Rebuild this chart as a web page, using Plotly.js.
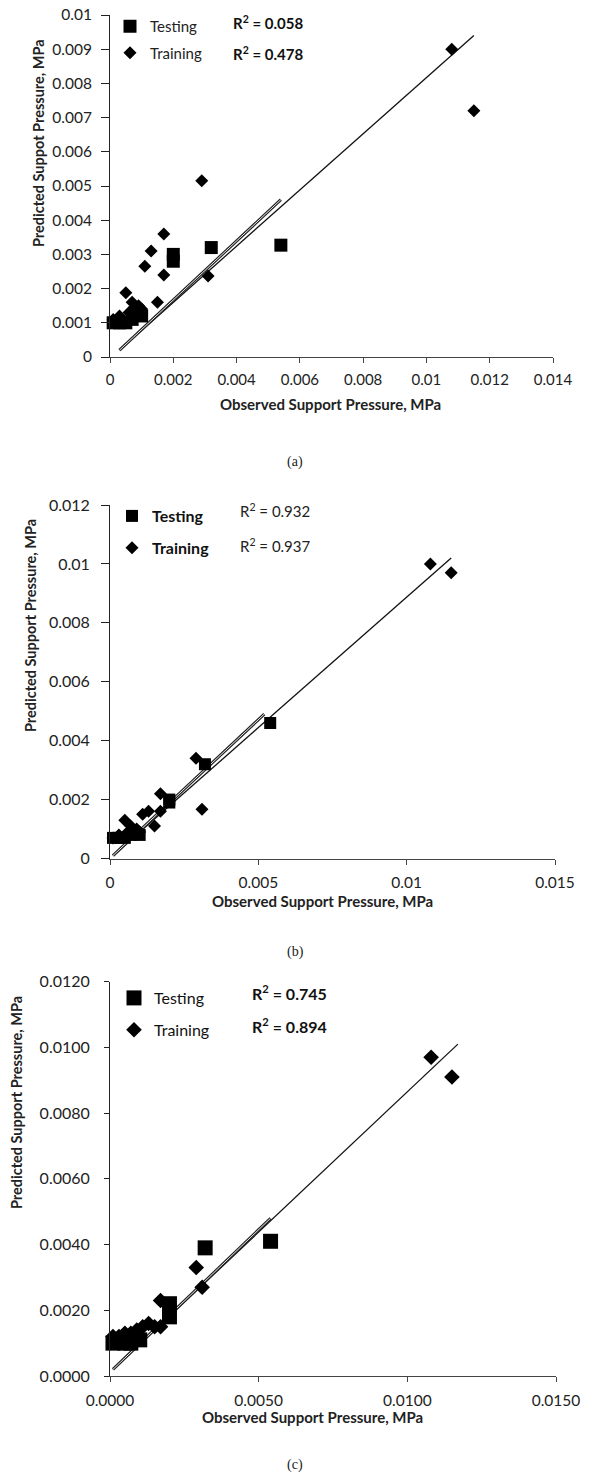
<!DOCTYPE html>
<html><head><meta charset="utf-8">
<script src="https://cdn.plot.ly/plotly-3.0.1.min.js"></script>
<style>html,body{margin:0;padding:0;background:#fff}#chart{width:595px;height:1481px}</style>
</head><body><div id="chart"></div>
<script>
// ---------- DATA ----------
// Observed support pressure (MPa) – same samples in all three panels
const trainObserved = [0.0108, 0.0115, 0.0029, 0.0031, 0.0017, 0.0017, 0.0013, 0.0011, 0.0015, 0.0005, 0.0007, 0.0009, 0.0003, 0.0001, 0.0006, 0.0010];
const testObserved  = [0.0054, 0.0032, 0.0020, 0.0020, 0.0010, 0.0007, 0.0005, 0.0003, 0.0001, 0.0008];

// Predicted support pressure (MPa)
const trainPredA = [0.0090, 0.0072, 0.00515, 0.00237, 0.0036, 0.0024, 0.0031, 0.00265, 0.0016, 0.00188, 0.0016, 0.0015, 0.0012, 0.0011, 0.0013, 0.0014];
const testPredA  = [0.00327, 0.0032, 0.0030, 0.0028, 0.0012, 0.0011, 0.0010, 0.0010, 0.0010, 0.0013];
const trainPredB = [0.0100, 0.0097, 0.0034, 0.00167, 0.0022, 0.0016, 0.0016, 0.0015, 0.0011, 0.0013, 0.0011, 0.0010, 0.0008, 0.0007, 0.0009, 0.0009];
const testPredB  = [0.0046, 0.0032, 0.0020, 0.0019, 0.0008, 0.0008, 0.0007, 0.0007, 0.0007, 0.0009];
const trainPredC = [0.0097, 0.0091, 0.0033, 0.0027, 0.0023, 0.0015, 0.0016, 0.0015, 0.0015, 0.0013, 0.0013, 0.0014, 0.0012, 0.0012, 0.0011, 0.0012];
const testPredC  = [0.0041, 0.0039, 0.0022, 0.0018, 0.0011, 0.0010, 0.0010, 0.0011, 0.0010, 0.0012];

// Trend lines (end points)
const trainLineA = {x: [0.0003, 0.0115], y: [0.0002, 0.0094]};
const testLineA  = {x: [0.0003, 0.0054], y: [0.0002, 0.0046]};
const trainLineB = {x: [0.0001, 0.0115], y: [0.0001, 0.0102]};
const testLineB  = {x: [0.0001, 0.0052], y: [0.0001, 0.0049]};
const trainLineC = {x: [0.0001, 0.0117], y: [0.0002, 0.0101]};
const testLineC  = {x: [0.0001, 0.0054], y: [0.0002, 0.0048]};

const r2A = {test: '0.058', train: '0.478'};
const r2B = {test: '0.932', train: '0.937'};
const r2C = {test: '0.745', train: '0.894'};

// Tick labels
const xTicksA = [0, 0.002, 0.004, 0.006, 0.008, 0.01, 0.012, 0.014];
const xTextA  = ['0', '0.002', '0.004', '0.006', '0.008', '0.01', '0.012', '0.014'];
const yTicksA = [0, 0.001, 0.002, 0.003, 0.004, 0.005, 0.006, 0.007, 0.008, 0.009, 0.01];
const yTextA  = ['0', '0.001', '0.002', '0.003', '0.004', '0.005', '0.006', '0.007', '0.008', '0.009', '0.01'];
const xTicksB = [0, 0.005, 0.01, 0.015];
const xTextB  = ['0', '0.005', '0.01', '0.015'];
const yTicksB = [0, 0.002, 0.004, 0.006, 0.008, 0.01, 0.012];
const yTextB  = ['0', '0.002', '0.004', '0.006', '0.008', '0.01', '0.012'];
const xTicksC = [0, 0.005, 0.01, 0.015];
const xTextC  = ['0.0000', '0.0050', '0.0100', '0.0150'];
const yTicksC = [0, 0.002, 0.004, 0.006, 0.008, 0.01, 0.012];
const yTextC  = ['0.0000', '0.0020', '0.0040', '0.0060', '0.0080', '0.0100', '0.0120'];

const xTitle = 'Observed Support Pressure, MPa';
const yTitleA = 'Predicted Suppot Pressure, MPa';
const yTitleB = 'Predicted Support Pressure, MPa';
const yTitleC = 'Predicted Support Pressure, MPa';

// ---------- LAYOUT HELPERS ----------
const W = 595, H = 1481;
const px = x => x / W;
const py = y => 1 - y / H;
const FONT = 'Lato, "Open Sans", sans-serif';

const traces = [];
function panel(ax, leg, trainPred, testPred, trainLine, testLine, sq, di) {
  const xa = 'x' + (ax === 1 ? '' : ax), ya = 'y' + (ax === 1 ? '' : ax);
  traces.push({x: trainLine.x, y: trainLine.y, mode: 'lines', line: {color: '#111', width: 1.3}, xaxis: xa, yaxis: ya, showlegend: false, hoverinfo: 'skip'});
  traces.push({x: testLine.x, y: testLine.y, mode: 'lines', line: {color: '#222', width: 3}, xaxis: xa, yaxis: ya, showlegend: false, hoverinfo: 'skip'});
  traces.push({x: testLine.x, y: testLine.y, mode: 'lines', line: {color: '#fff', width: 0.9}, xaxis: xa, yaxis: ya, showlegend: false, hoverinfo: 'skip'});
  traces.push({x: testObserved, y: testPred, mode: 'markers', name: 'Testing', legend: leg, legendgroup: leg + 't',
    marker: {symbol: 'square', size: sq, color: '#000'}, cliponaxis: false, xaxis: xa, yaxis: ya});
  traces.push({x: trainObserved, y: trainPred, mode: 'markers', name: 'Training', legend: leg, legendgroup: leg + 'r',
    marker: {symbol: 'diamond', size: di, color: '#000'}, cliponaxis: false, xaxis: xa, yaxis: ya});
}
panel(1, 'legend', trainPredA, testPredA, trainLineA, testLineA, 13, 10);
panel(2, 'legend2', trainPredB, testPredB, trainLineB, testLineB, 12, 10);
panel(3, 'legend3', trainPredC, testPredC, trainLineC, testLineC, 15, 12);

function axis(dom, range, tv, tt, anchor, fs, lc, tl, so) {
  return {domain: dom, range: range, tickvals: tv, ticktext: tt, ticks: 'outside', ticklen: tl, tickcolor: lc,
    showline: true, linecolor: lc, linewidth: 1, showgrid: false, zeroline: false, anchor: anchor, ticklabelstandoff: so,
    tickfont: {family: FONT, size: fs, color: '#222'}, fixedrange: true};
}

const layout = {
  width: W, height: H, margin: {l: 0, r: 0, t: 0, b: 0}, paper_bgcolor: '#fff', plot_bgcolor: '#fff',
  showlegend: true,
  xaxis:  axis([px(110), px(553)], [0, 0.014], xTicksA, xTextA, 'y', 15, '#444', 5, 4),
  yaxis:  axis([py(357), py(15)], [0, 0.01], yTicksA, yTextA, 'x', 15.5, '#222', 8, 6),
  xaxis2: axis([px(110), px(555)], [0, 0.015], xTicksB, xTextB, 'y2', 15.5, '#444', 5, 5),
  yaxis2: axis([py(858.5), py(505)], [0, 0.012], yTicksB, yTextB, 'x2', 16, '#222', 8, 8),
  xaxis3: axis([px(110), px(556)], [0, 0.015], xTicksC, xTextC, 'y3', 15.5, '#444', 5, 5),
  yaxis3: axis([py(1376), py(981.7)], [0, 0.012], yTicksC, yTextC, 'x3', 16, '#222', 5, 11),
  legend:  {x: px(110), y: py(10), xanchor: 'left', yanchor: 'top', bgcolor: 'rgba(0,0,0,0)', traceorder: 'grouped', tracegroupgap: 4,
            font: {family: FONT, size: 15, color: '#222'}},
  legend2: {x: px(112), y: py(499), xanchor: 'left', yanchor: 'top', bgcolor: 'rgba(0,0,0,0)', traceorder: 'grouped', tracegroupgap: 8,
            font: {family: FONT, size: 16, color: '#111', weight: 'bold'}},
  legend3: {x: px(114), y: py(981), xanchor: 'left', yanchor: 'top', bgcolor: 'rgba(0,0,0,0)', traceorder: 'grouped', tracegroupgap: 8,
            font: {family: FONT, size: 16, color: '#111'}},
  annotations: []
};

function txt(text, x, y, opt) {
  layout.annotations.push(Object.assign({text: text, x: px(x), y: py(y), xref: 'paper', yref: 'paper', showarrow: false,
    xanchor: 'left', yanchor: 'middle', font: {family: FONT, size: 14, color: '#111'}}, opt || {}));
}
// R² labels
txt('<b>R<sup>2</sup> = ' + r2A.test + '</b>', 231, 22, {font: {family: FONT, size: 15, color: '#111'}});
txt('<b>R<sup>2</sup> = ' + r2A.train + '</b>', 231, 53, {font: {family: FONT, size: 15, color: '#111'}});
txt('R<sup>2</sup> = ' + r2B.test, 238, 511, {font: {family: FONT, size: 15, color: '#222'}});
txt('R<sup>2</sup> = ' + r2B.train, 238, 545, {font: {family: FONT, size: 15, color: '#222'}});
txt('<b>R<sup>2</sup> = ' + r2C.test + '</b>', 250, 993, {font: {family: FONT, size: 16, color: '#111'}});
txt('<b>R<sup>2</sup> = ' + r2C.train + '</b>', 250, 1025, {font: {family: FONT, size: 16, color: '#111'}});
// Axis titles
const tf = s => ({family: FONT, size: s, color: '#222'});
txt('<b>' + xTitle + '</b>', 330, 404, {xanchor: 'center', font: tf(15)});
txt('<b>' + xTitle + '</b>', 322, 901, {xanchor: 'center', font: tf(15)});
txt('<b>' + xTitle + '</b>', 312, 1417, {xanchor: 'center', font: tf(15)});
txt('<b>' + yTitleA + '</b>', 38, 143, {xanchor: 'center', textangle: -90, font: tf(14.5)});
txt('<b>' + yTitleB + '</b>', 30, 626, {xanchor: 'center', textangle: -90, font: tf(14.5)});
txt('<b>' + yTitleC + '</b>', 16, 1103, {xanchor: 'center', textangle: -90, font: tf(14.5)});
// Captions
const cf = {family: '"Liberation Serif", "DejaVu Serif", serif', size: 14, color: '#222'};
txt('(a)', 295, 462, {xanchor: 'center', font: cf});
txt('(b)', 295, 952, {xanchor: 'center', font: cf});
txt('(c)', 295, 1465, {xanchor: 'center', font: cf});

Plotly.newPlot('chart', traces, layout, {staticPlot: true});
</script></body></html>
